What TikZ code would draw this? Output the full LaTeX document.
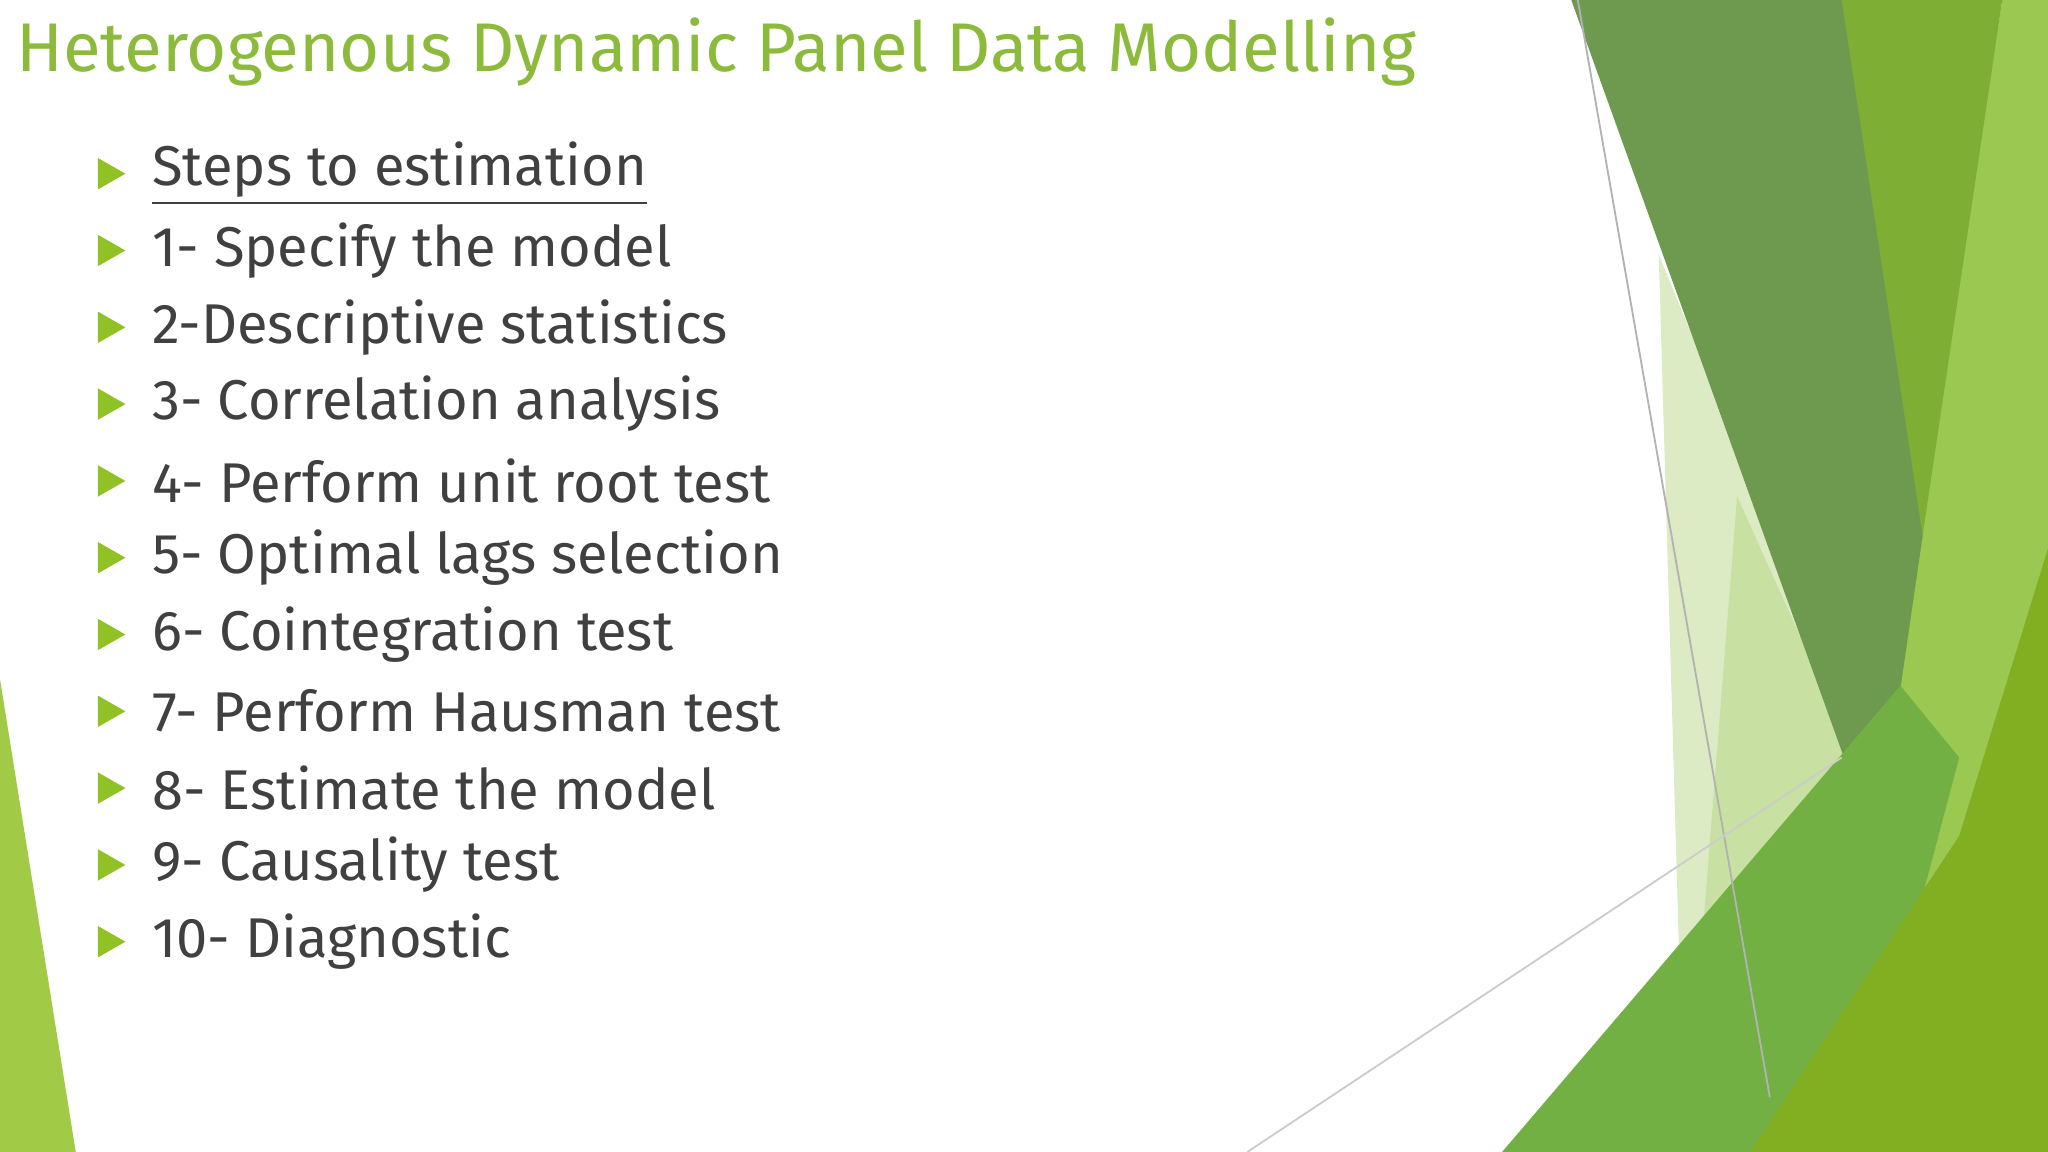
\documentclass[tikz,border=0pt]{standalone}
\usepackage{fontspec}
\setmainfont{Fira Sans}
\definecolor{txt}{HTML}{404040}
\definecolor{ttl}{HTML}{8CBB3C}
\definecolor{bul}{HTML}{90C226}
\definecolor{dg}{HTML}{6E9A50}
\definecolor{mg}{HTML}{7EAF34}
\definecolor{lg}{HTML}{9BC850}
\definecolor{pg}{HTML}{DCEBC4}
\definecolor{bg}{HTML}{72B043}
\tikzset{item/.style={anchor=west,text=txt,font=\fontsize{12.2}{14}\selectfont,inner sep=0pt},
bull/.style={fill=bul}}
\begin{document}
\begin{tikzpicture}[x=0.01cm,y=-0.01cm]
\useasboundingbox (0,0) rectangle (1568,882);
\fill[white] (0,0) rectangle (1568,882);
% left sliver
\fill[bul!85] (0,520) -- (58,882) -- (0,882) -- cycle;
% right shapes
\fill[pg] (1270,195) -- (1420,560) -- (1180,882) -- (1290,882) -- cycle;
\fill[pg!70!lg] (1330,380) -- (1420,580) -- (1300,760) -- cycle;
\fill[lg] (1533,0) -- (1568,0) -- (1568,882) -- (1400,882) -- (1470,400) -- cycle;
\fill[mg] (1408,0) -- (1533,0) -- (1472,410) -- (1437,650) -- cycle;
\fill[dg] (1203,0) -- (1410,0) -- (1472,410) -- (1437,650) -- cycle;
\fill[bg] (1150,882) -- (1455,525) -- (1500,580) -- (1420,882) -- cycle;
\fill[bul!90!black] (1568,420) -- (1568,882) -- (1340,882) -- (1500,640) -- cycle;
\draw[gray!60,line width=0.4pt] (1208,0) -- (1355,840);
\draw[gray!40,line width=0.4pt] (955,882) -- (1410,580);
% title
\node[anchor=west,text=ttl,font=\fontsize{15}{18}\selectfont,inner sep=0pt] (title) at (12,40) {Heterogenous Dynamic Panel Data Modelling};
% items
\foreach \i/\t in {0/{\underline{Steps to estimation}},1/{1- Specify the model},2/{2-Descriptive statistics},3/{3- Correlation analysis},4/{4- Perform unit root test},5/{5- Optimal lags selection},6/{6- Cointegration test},7/{7- Perform Hausman test},8/{8- Estimate the model},9/{9- Causality test},10/{10- Diagnostic}}{
  \fill[bull] (75,{133+58.8*\i-12}) -- (96,{133+58.8*\i}) -- (75,{133+58.8*\i+12}) -- cycle;
  \node[item] (it\i) at (116,{133+58.8*\i}) {\t};
}
\end{tikzpicture}
\end{document}
